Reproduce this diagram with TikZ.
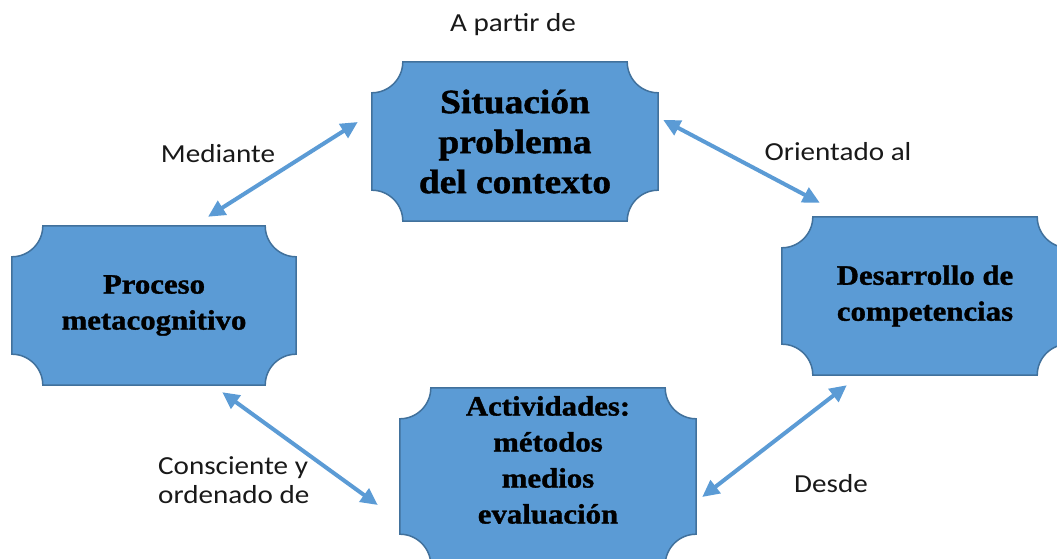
\documentclass[tikz,border=0pt]{standalone}
\usepackage{fontspec}
\setmainfont{Liberation Serif}[FakeStretch=1.1, BoldFeatures={FakeBold=1.2}]
\newfontfamily\lblfont{Carlito}[FakeStretch=1.12]
\usetikzlibrary{arrows.meta,backgrounds,calc}
\definecolor{boxfill}{HTML}{5B9BD5}
\definecolor{boxline}{HTML}{41719C}
\def\sc{1pt}
\def\rr{31pt}
\def\bigtxt{\fontsize{34}{40}\selectfont\bfseries}
\def\boxtxt{\fontsize{28}{36}\selectfont\bfseries}
\def\lbltxt{\lblfont\fontsize{26}{29}\selectfont}
\def\tip{Triangle[length=17pt,width=16pt]}
% plaque: rectangle with concave corners, from north west to south east
\newcommand\plaque[2]{%
  \path [plaquebox] let \p1=#1, \p2=#2 in
    (\x1+\rr,\y1) -- (\x2-\rr,\y1) arc [start angle=180,end angle=270,radius=\rr]
    -- (\x2,\y2+\rr) arc [start angle=90,end angle=180,radius=\rr]
    -- (\x1+\rr,\y2) arc [start angle=0,end angle=90,radius=\rr]
    -- (\x1,\y1-\rr) arc [start angle=270,end angle=360,radius=\rr] -- cycle;}
\tikzset{
  plaquebox/.style={fill=boxfill, draw=boxline, line width=1.5pt},
  box/.style={inner sep=0pt, align=center, text=black},
  link/.style={draw=boxfill, line width=4pt, {\tip}-{\tip}},
  lbl/.style={font=\lbltxt, inner sep=0pt, text=black!90}
}

\begin{document}
\begin{tikzpicture} [x=\sc, y=\sc]
\useasboundingbox (0,0) rectangle (1057,559);
% boxes
\node [box, font=\bigtxt, minimum width=286, minimum height=159] (sit) at (515,417.5)
  {Situación\\problema\\del contexto};
\node [box, font=\boxtxt, minimum width=284, minimum height=159] (proc) at (154,253.5)
  {Proceso\\metacognitivo};
\node [box, font=\boxtxt, minimum width=286, minimum height=158] (des) at (925,263)
  {Desarrollo de\\competencias};
\node [box, font=\boxtxt, minimum width=296, minimum height=144] (act) at (548,99)
  {Actividades:\\métodos\\medios\\evaluación};
\begin{scope} [on background layer]
  \plaque{(sit.north west)}{(sit.south east)}
  \plaque{(proc.north west)}{(proc.south east)}
  \plaque{(des.north west)}{(des.south east)}
  \plaque{(act.north west)}{([yshift=-33pt]act.south east)}
\end{scope}
% connectors
\draw [link] ([shift={(-14,19.5)}]sit.west) -- ([shift={(54,9)}]proc.north);
\draw [link] ([shift={(5,21.5)}]sit.east) -- ([shift={(38,14)}]des.north west);
\draw [link] ([shift={(-74,-7)}]proc.south east) -- ([shift={(-22,-45)}]act.west);
\draw [link] ([shift={(65,-10)}]des.south west) -- ([shift={(6,-37)}]act.east);
% labels
\node [lbl] (partir) at (513,534) {A partir de};
\node [lbl] (med) at (218,405) {Mediante};
\node [lbl] (ori) at (838,407) {Orientado al};
\node [lbl, align=left, anchor=west] (cons) at (158,78.5) {Consciente y\\ordenado de};
\node [lbl] (desde) at (831,75) {Desde};
\end{tikzpicture}
\end{document}
